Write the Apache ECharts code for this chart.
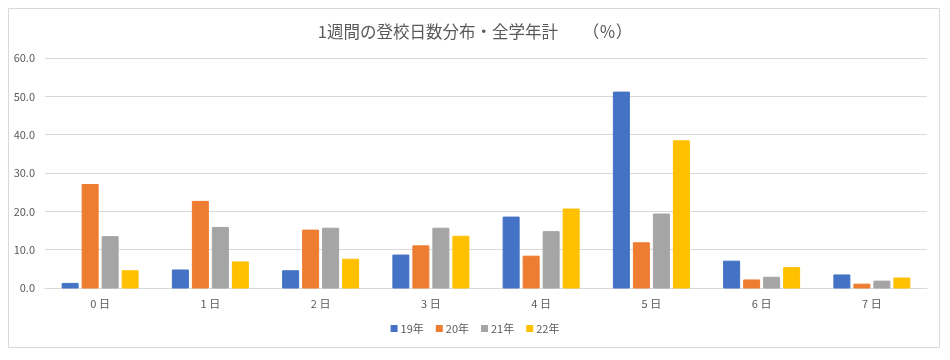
<!DOCTYPE html>
<html><head><meta charset="utf-8">
<script src="https://cdn.jsdelivr.net/npm/echarts@6/dist/echarts.min.js"></script>
<style>html,body{margin:0;padding:0;background:#fff}#c{width:950px;height:360px}</style>
</head><body><div id="c"></div>
<script>
const categories = ['0 日','1 日','2 日','3 日','4 日','5 日','6 日','7 日'];
const seriesNames = ['19年','20年','21年','22年'];
const y19 = [1.2, 4.7, 4.5, 8.6, 18.5, 51.1, 7.0, 3.4];
const y20 = [27.0, 22.6, 15.1, 11.0, 8.3, 11.8, 2.1, 1.0];
const y21 = [13.4, 15.8, 15.6, 15.6, 14.7, 19.3, 2.8, 1.8];
const y22 = [4.5, 6.8, 7.5, 13.5, 20.6, 38.4, 5.3, 2.6];
const colors = ['#4472C4','#ED7D31','#A5A5A5','#FFC000'];
const allData = [y19, y20, y21, y22];
const font = '"Noto Sans CJK JP", "Noto Sans", sans-serif';
const chart = echarts.init(document.getElementById('c'));
chart.setOption({
  animation: false,
  color: colors,
  title: {text: '1週間の登校日数分布・全学年計　　（％）', left: 'center', top: 18,
    textStyle: {fontFamily: font, fontSize: 16.5, fontWeight: 'normal', color: '#595959'}},
  graphic: [{type: 'rect', shape: {x: 8.5, y: 8.5, width: 931, height: 339},
    style: {fill: 'none', stroke: '#d9d9d9', lineWidth: 1}, silent: true}],
  legend: {bottom: 21, left: 'center', itemWidth: 7, itemHeight: 7, itemGap: 12,
    icon: 'rect', textStyle: {fontFamily: font, fontSize: 11, color: '#595959', padding: [0,0,0,-2]},
    data: seriesNames},
  grid: {left: 45, right: 23, top: 58, bottom: 72, containLabel: false},
  xAxis: {type: 'category', data: categories,
    axisLine: {lineStyle: {color: '#d9d9d9'}}, axisTick: {show: false},
    axisLabel: {fontFamily: font, fontSize: 11, color: '#595959', margin: 10}},
  yAxis: {type: 'value', min: 0, max: 60, interval: 10,
    axisLine: {show: false}, axisTick: {show: false},
    splitLine: {lineStyle: {color: '#d9d9d9'}},
    axisLabel: {fontFamily: font, fontSize: 11, color: '#595959', margin: 10,
      formatter: v => v.toFixed(1)}},
  series: seriesNames.map((n, i) => ({
    name: n, type: 'bar', data: allData[i], barWidth: 16, barGap: '25%',
    itemStyle: {color: colors[i], borderColor: colors[i]}
  }))
});
</script></body></html>
